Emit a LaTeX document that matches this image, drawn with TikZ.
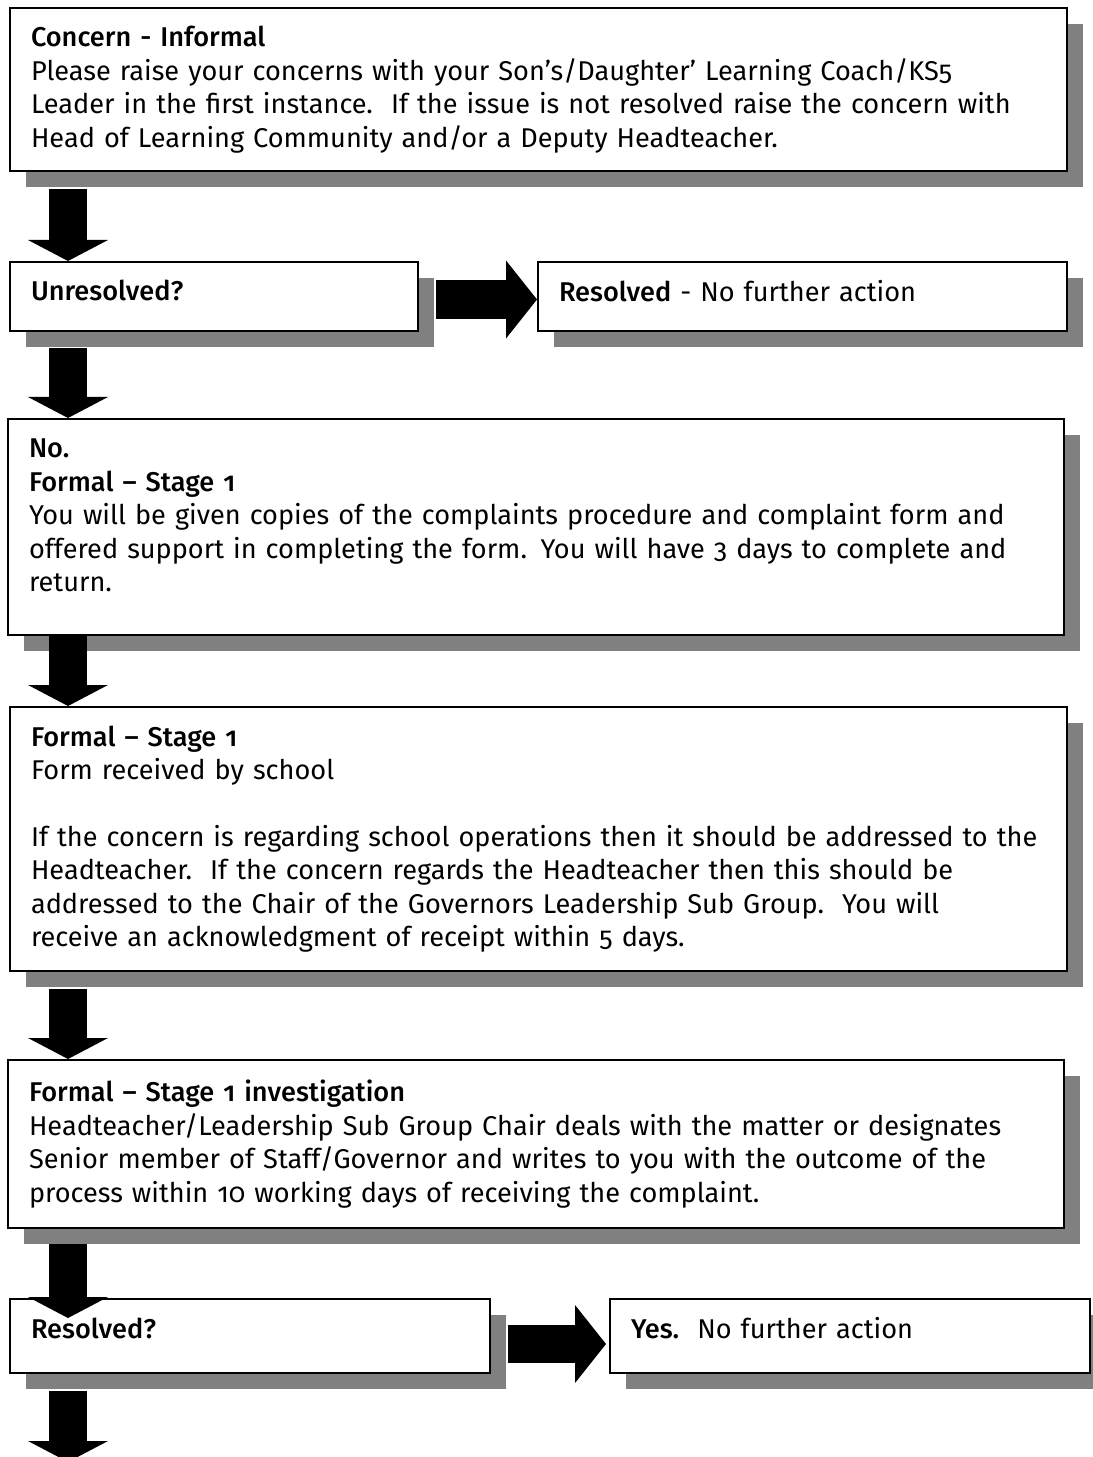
\documentclass[tikz,border=0pt]{standalone}
\usepackage{fontspec}
\setmainfont{Fira Sans}[Numbers=OldStyle, BoldFont={Fira Sans Medium}]
\usetikzlibrary{arrows.meta,shadows,calc}
\newlength\pxu
\setlength\pxu{0.025cm}
\definecolor{shadowgray}{RGB}{128,128,128}
\tikzset{
  box/.style={draw, line width=2\pxu, fill=white, anchor=north west, align=left,
    inner xsep=21\pxu, inner ysep=6\pxu, font=\fontsize{19.3}{23.8}\selectfont,
    drop shadow={shadow xshift=16\pxu, shadow yshift=-16\pxu, fill=shadowgray, opacity=1}},
  downarr/.style={line width=0.95cm, -{Triangle[width=2cm, length=0.525cm, line width=0pt]}},
  rightarr/.style={line width=0.95cm, -{Triangle[width=1.95cm, length=0.775cm, line width=0pt]}}
}

\begin{document}
\begin{tikzpicture}[x=0.025cm, y=-0.025cm]
\useasboundingbox (0,0) rectangle (1092,1457);
% boxes
\node[box, text width=1015\pxu, minimum height=163\pxu] (informal) at (9,7) {\textbf{Concern - Informal}\\
  Please raise your concerns with your Son’s/Daughter’ Learning Coach/KS5\\
  Leader in the first instance.\ \ If the issue is not resolved raise the concern with\\
  Head of Learning Community and/or a Deputy Headteacher.};
\node[box, text width=366\pxu, minimum height=69\pxu, text depth=12\pxu] (unres) at (9,261) {\textbf{Unresolved?}};
\node[box, text width=487\pxu, minimum height=69\pxu, text depth=12\pxu] (res) at (537,261) {\textbf{Resolved} - No further action};
\node[box, text width=1014\pxu, minimum height=216\pxu] (stageA) at (7,418) {\textbf{No.}\\
  \textbf{Formal -- Stage 1}\\
  You will be given copies of the complaints procedure and complaint form and\\
  offered support in completing the form. You will have 3 days to complete and\\
  return.\\[-10\pxu]\mbox{}};
\node[box, text width=1015\pxu, minimum height=264\pxu] (stageB) at (9,706) {\textbf{Formal -- Stage 1}\\
  Form received by school\\[33\pxu]
  If the concern is regarding school operations then it should be addressed to the\\
  Headteacher.\ \ If the concern regards the Headteacher then this should be\\
  addressed to the Chair of the Governors Leadership Sub Group.\ \ You will\\
  receive an acknowledgment of receipt within 5 days.};
\node[box, text width=1014\pxu, minimum height=168\pxu] (invest) at (7,1059) {\textbf{Formal -- Stage 1 investigation}\\
  Headteacher/Leadership Sub Group Chair deals with the matter or designates\\
  Senior member of Staff/Governor and writes to you with the outcome of the\\
  process within 10 working days of receiving the complaint.};
\node[box, text width=438\pxu, minimum height=74\pxu, text depth=16\pxu] (resq) at (9,1298) {\textbf{Resolved?}};
\node[box, text width=438\pxu, minimum height=74\pxu, text depth=16\pxu] (yes) at (609,1298) {\textbf{Yes.}\ \ No further action};
% arrows
\coordinate (col) at (68,0);
\coordinate (tail) at (68,1462);
\draw[downarr] ($(col |- informal.south)+(0,17)$) -- (col |- unres.north);
\draw[downarr] ($(col |- unres.south)+(0,16)$) -- (col |- stageA.north);
\draw[downarr] (col |- stageA.south) -- (col |- stageB.north);
\draw[downarr] ($(col |- stageB.south)+(0,17)$) -- (col |- invest.north);
\draw[downarr] ($(col |- invest.south)+(0,15)$) -- ($(col |- resq.north)+(0,20)$);
\draw[downarr] ($(col |- resq.south)+(0,17)$) -- (tail);
\draw[rightarr] ($(unres.east)+(17,3)$) -- ($(res.west)+(0,3)$);
\draw[rightarr] ($(resq.east)+(17,8)$) -- ($(yes.west)+(-3,8)$);
\end{tikzpicture}
\end{document}
